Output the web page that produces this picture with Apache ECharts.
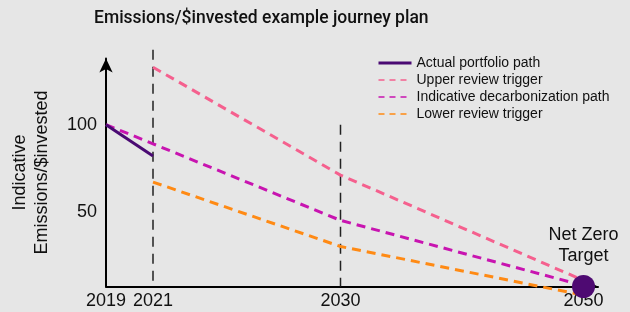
<!DOCTYPE html>
<html>
<head>
<meta charset="utf-8">
<script src="https://cdn.jsdelivr.net/npm/echarts@6/dist/echarts.min.js"></script>
<style>
  html, body { margin: 0; padding: 0; background: #e6e6e6; }
  #chart { width: 630px; height: 312px; }
</style>
</head>
<body>
<div id="chart"></div>
<script>
// Journey plan data
const years = [2019, 2021, 2030, 2050]
const actualPath = [100, 82, null, null]
const upperTrigger = [null, 133, 71, 10.5]
const indicativePath = [100, 89, 45, 7.5]
const lowerTrigger = [null, 67, 30, 2]
const yTicks = [50, 100]
const milestoneYears = [2021, 2030]
const milestoneTops = [143, 100]
const netZero = { year: 2050, value: 7, label: 'Net Zero\nTarget' }

// The x scale is not linear in years: piecewise stops between tick years
const xStops = [0, 47, 234.5, 477.5]
const xMax = 492
const yMin = 7

function toAxis(year) {
  for (let i = 1; i < years.length; i++) {
    if (year <= years[i]) {
      const t = (year - years[i - 1]) / (years[i] - years[i - 1])
      return xStops[i - 1] + t * (xStops[i] - xStops[i - 1])
    }
  }
  return xStops[xStops.length - 1]
}

function toLabel(v) {
  const i = xStops.findIndex(s => Math.abs(s - v) < 0.01)
  return i >= 0 ? String(years[i]) : ''
}

function pairs(values) {
  return years.map((y, i) => [toAxis(y), values[i]]).filter(p => p[1] !== null)
}

const font = 'Liberation Sans, Arial, sans-serif'

const chart = echarts.init(document.getElementById('chart'))

const dashed = (name, color, values) => ({
  name,
  type: 'line',
  data: pairs(values),
  symbol: 'none',
  clip: false,
  z: 3,
  lineStyle: { color, width: 3, type: [9, 6] },
  itemStyle: { color }
})

// vertical milestone markers, drawn as plain lines so they may pass above the grid
const milestones = milestoneYears.map((y, i) => ({
  name: 'milestone ' + y,
  type: 'line',
  data: [[toAxis(y), milestoneTops[i]], [toAxis(y), yMin]],
  symbol: 'none',
  clip: false,
  silent: true,
  z: 2,
  lineStyle: { color: '#222', width: 1.5, type: [10, 7] }
}))

const thinDash = { width: 1.5, type: [6, 5] }

chart.setOption({
  backgroundColor: '#e6e6e6',
  animation: false,
  title: {
    text: 'Emissions/$invested example journey plan',
    left: 89,
    top: 5,
    textStyle: { fontFamily: 'Roboto, sans-serif', fontWeight: 500, fontSize: 17.5, color: '#111' }
  },
  legend: {
    orient: 'vertical',
    left: 372,
    top: 51,
    itemWidth: 33,
    itemHeight: 10,
    itemGap: 3,
    itemStyle: { opacity: 0 },
    data: [
      { name: 'Actual portfolio path', lineStyle: { width: 3 } },
      { name: 'Upper review trigger', lineStyle: thinDash },
      { name: 'Indicative decarbonization path', lineStyle: thinDash },
      { name: 'Lower review trigger', lineStyle: thinDash }
    ],
    textStyle: { fontFamily: font, fontSize: 14, color: '#111' }
  },
  grid: { left: 106, top: 58.5, width: xMax, bottom: 25.5, outerBoundsMode: 'none', containLabel: false },
  xAxis: {
    type: 'value',
    min: 0,
    max: xMax,
    splitLine: { show: false },
    axisTick: { show: false },
    axisLine: { lineStyle: { color: '#000', width: 2 }, symbol: ['none', 'arrow'], symbolSize: [9, 12] },
    axisLabel: {
      customValues: years.map(toAxis),
      formatter: v => toLabel(v),
      fontFamily: font, fontSize: 18, color: '#111', margin: 6
    }
  },
  yAxis: {
    type: 'value',
    min: yMin,
    max: 138,
    name: 'Indicative\nEmissions/$invested',
    nameLocation: 'middle',
    nameRotate: 90,
    nameGap: 53,
    nameTextStyle: { fontFamily: font, fontSize: 18, color: '#111', lineHeight: 22 },
    splitLine: { show: false },
    axisTick: { show: false },
    axisLine: { show: true, lineStyle: { color: '#000', width: 2 }, symbol: ['none', 'arrow'], symbolSize: [10, 14] },
    axisLabel: {
      customValues: yTicks,
      fontFamily: font, fontSize: 18, color: '#111', margin: 9
    }
  },
  series: [
    ...milestones,
    dashed('Upper review trigger', '#f5608e', upperTrigger),
    dashed('Lower review trigger', '#ff8a14', lowerTrigger),
    dashed('Indicative decarbonization path', '#c814b0', indicativePath),
    {
      name: 'Actual portfolio path',
      type: 'line',
      data: pairs(actualPath),
      symbol: 'none',
      z: 4,
      lineStyle: { color: '#4a0a73', width: 3 },
      itemStyle: { color: '#4a0a73' }
    },
    {
      name: 'Net Zero',
      type: 'scatter',
      data: [[toAxis(netZero.year), netZero.value]],
      symbolSize: 23,
      clip: false,
      z: 5,
      itemStyle: { color: '#4e0a72', opacity: 1 },
      label: {
        show: true,
        position: 'top',
        distance: 8,
        formatter: netZero.label,
        fontFamily: font, fontSize: 18, lineHeight: 21, color: '#111'
      }
    }
  ]
})
</script>
</body>
</html>
